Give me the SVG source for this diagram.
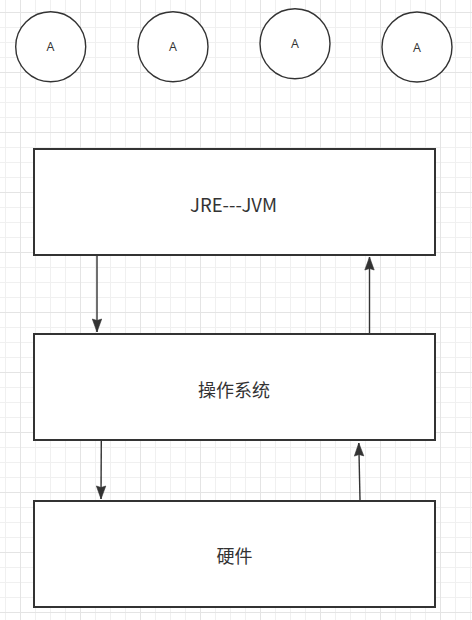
<svg xmlns="http://www.w3.org/2000/svg" width="472" height="620" viewBox="0 0 472 620">
<style>
  .node { fill: #ffffff; stroke: #333333; stroke-width: 2; }
  .circ { fill: #ffffff; stroke: #333333; stroke-width: 1.4; }
  .lbl { font-family: "Noto Sans CJK SC", "Noto Sans", sans-serif; fill: #333333; text-anchor: middle; dominant-baseline: central; }
  .lat { font-family: "Open Sans", "Noto Sans", sans-serif; fill: #333333; text-anchor: middle; }
  .small { font-size: 12.5px; }
  .big { font-size: 18px; }
  .edge { fill: none; stroke: #333333; stroke-width: 1.4; }
</style>
<defs>
  <pattern id="grid" patternUnits="userSpaceOnUse" x="20" y="12" width="60" height="60">
    <rect x="15" y="0" width="1" height="60" fill="#f0f0f0"/>
    <rect x="30" y="0" width="1" height="60" fill="#f0f0f0"/>
    <rect x="45" y="0" width="1" height="60" fill="#f0f0f0"/>
    <rect x="0" y="15" width="60" height="1" fill="#f0f0f0"/>
    <rect x="0" y="30" width="60" height="1" fill="#f0f0f0"/>
    <rect x="0" y="45" width="60" height="1" fill="#f0f0f0"/>
    <rect x="0" y="0" width="1" height="60" fill="#e4e4e4"/>
    <rect x="0" y="0" width="60" height="1" fill="#e4e4e4"/>
  </pattern>
  <marker id="arr" markerUnits="userSpaceOnUse" markerWidth="16" markerHeight="12" viewBox="-14 -6 16 12" refX="0" refY="0" orient="auto">
    <path d="M0,0 L-13,-4.7 L-11.5,0 L-13,4.7 Z" fill="#333333" stroke="#333333" stroke-width="0.6"/>
  </marker>
</defs>
<rect x="0" y="0" width="472" height="620" fill="#ffffff"/>
<rect x="0" y="0" width="472" height="620" fill="url(#grid)"/>

<g id="circle1"><circle class="circ" cx="50.7" cy="46.7" r="35"/><text class="lat small" x="50.5" y="51.3">A</text></g>
<g id="circle2"><circle class="circ" cx="173" cy="46.7" r="35"/><text class="lat small" x="173" y="51.3">A</text></g>
<g id="circle3"><circle class="circ" cx="295" cy="43.7" r="35"/><text class="lat small" x="295" y="48.3">A</text></g>
<g id="circle4"><circle class="circ" cx="417" cy="47" r="35"/><text class="lat small" x="417" y="51.6">A</text></g>

<g id="jre"><rect class="node" x="34" y="149" width="401" height="106"/><text class="lbl" style="font-size:18.5px;dominant-baseline:auto" x="233.5" y="211.5">JRE---JVM</text></g>
<g id="os"><rect class="node" x="34" y="334" width="401" height="106"/><text class="lbl big" x="234" y="389">操作系统</text></g>
<g id="hw"><rect class="node" x="34" y="501" width="401" height="106"/><text class="lbl big" x="234.5" y="555">硬件</text></g>

<g id="connectors">
  <path class="edge" d="M97,256 L97,332" marker-end="url(#arr)"/>
  <path class="edge" d="M369.5,333 L369.5,257" marker-end="url(#arr)"/>
  <path class="edge" d="M101.3,441 L101,499" marker-end="url(#arr)"/>
  <path class="edge" d="M360,500 L358.8,443" marker-end="url(#arr)"/>
</g>
</svg>
